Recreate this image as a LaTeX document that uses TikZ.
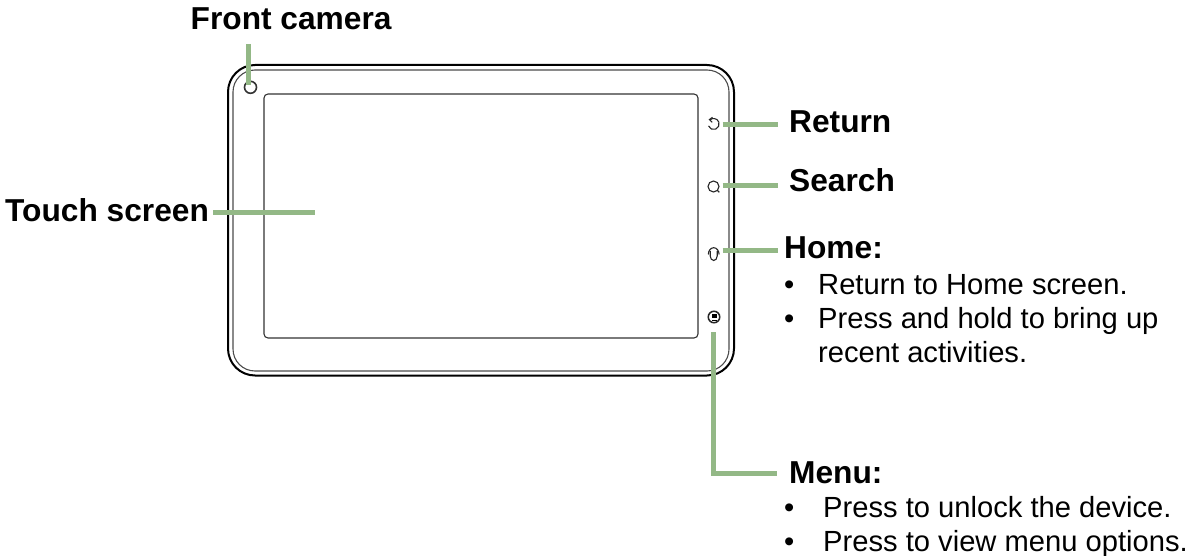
\documentclass[tikz,border=0pt]{standalone}
\usepackage{fontspec}
\setmainfont{Liberation Sans}
\tikzset{
  x=1pt,y=-1pt,
  head/.style={inner sep=0pt,anchor=base west,font=\fontsize{31.7}{35}\selectfont\bfseries,text=black},
  body/.style={inner sep=0pt,anchor=base west,font=\fontsize{29.15}{32}\selectfont,text=black},
  leader/.style={draw=leadergreen,line width=5pt},
  case/.style={draw=black,rounded corners=27pt},
  icon/.style={draw=black!85,line width=1.1pt},
}
\definecolor{leadergreen}{HTML}{93B886}
\begin{document}
\begin{tikzpicture}
\useasboundingbox (0,0) rectangle (1189,556);
% device
\draw[case,line width=2pt] (228,65) rectangle (734,375.5);
\draw[case,line width=1.1pt,draw=black!70,rounded corners=22pt] (233,70) rectangle (729,371);
\node[draw=black!80,line width=1.1pt,rounded corners=4pt,minimum width=434pt,minimum height=244pt,inner sep=0pt] (screen) at (481,216) {};
% camera
\node[circle,draw=black!80,line width=1.6pt,minimum size=12pt,inner sep=0pt] (camera) at (250.5,87.3) {};
% icons
\node[inner sep=0pt,minimum size=11pt] (returnicon) at (713.7,124) {};
\draw[icon] (708.5,125.9) arc (160:-130:5.5);
\draw[icon] (712.5,117.3) -- (709.4,119.6) -- (712.2,122.3);
\node[circle,icon,minimum size=11pt,inner sep=0pt] (searchicon) at (713.5,186.5) {};
\draw[icon] (searchicon.south east) -- ++(1.5,1.5);
\node[inner sep=0pt,minimum size=11pt] (homeicon) at (713.7,253) {};
\draw[icon] (708.3,254.5) arc (180:360:5.4 and 6.8);
\draw[icon] (710.2,251) -- (710.2,256) arc (180:0:3.5 and 4.5) -- (717.2,251);
\node[circle,draw=black!85,line width=1.5pt,minimum size=11.5pt,inner sep=0pt] (menuicon) at (714,317) {};
\fill[black] (711.8,313.7) rectangle (716.5,318.3);
\fill[black] (711.8,319.6) rectangle (716.5,320.8);
% labels
\node[head] (lfront) at (190.5,29.5) {Front camera};
\node[head] (ltouch) at (5,221.5) {Touch screen};
\node[head] (lreturn) at (789,133) {Return};
\node[head] (lsearch) at (789,192) {Search};
\node[head] (lhome) at (784,258.5) {Home:};
\node[body] at (784,294.5) {•};
\node[body] at (818,294.5) {Return to Home screen.};
\node[body] at (784,328) {•};
\node[body] at (818,328) {Press and hold to bring up};
\node[body] at (818,362.7) {recent activities.};
\node[head] (lmenu) at (789,483) {Menu:};
\node[body] at (784,517.5) {•};
\node[body] at (823,517.5) {Press to unlock the device.};
\node[body] at (784,551.5) {•};
\node[body] at (823,551.5) {Press to view menu options.};
% leaders
\coordinate (cfront) at (248.3,44);
\coordinate (cfrontend) at (248.3,85);
\coordinate (ctouchl) at (213,213);
\coordinate (ctouchr) at (315,213);
\coordinate (cr1) at (722.7,124.5);
\coordinate (cr2) at (778,124.5);
\coordinate (cs1) at (722.7,186);
\coordinate (cs2) at (778,186);
\coordinate (ch1) at (722.7,250.5);
\coordinate (ch2) at (778,250.5);
\coordinate (cm1) at (713.5,332);
\coordinate (cm2) at (777,473);
\draw[leader] (cfront) -- (cfrontend);
\draw[leader] (ctouchl) -- (ctouchr);
\draw[leader] (cr1) -- (cr2);
\draw[leader] (cs1) -- (cs2);
\draw[leader] (ch1) -- (ch2);
\draw[leader] (cm1) |- (cm2);
\end{tikzpicture}
\end{document}
